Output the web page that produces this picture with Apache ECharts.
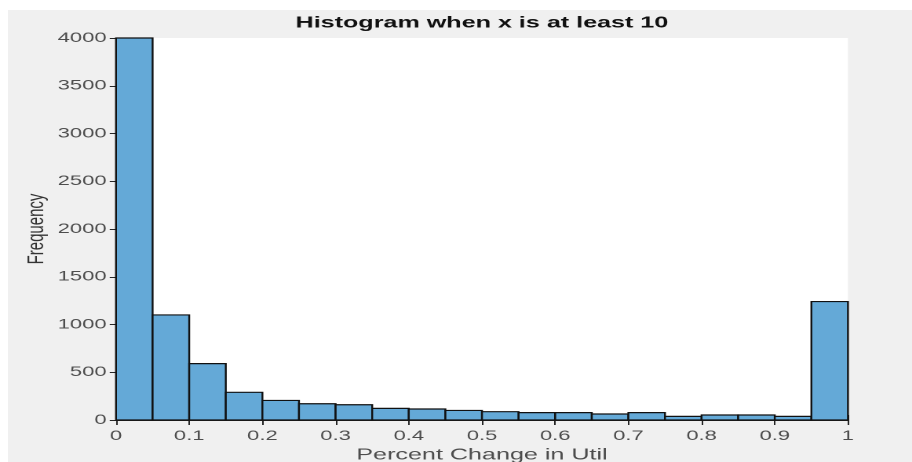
<!DOCTYPE html>
<html>
<head>
<meta charset="utf-8">
<script src="https://cdn.jsdelivr.net/npm/echarts@6/dist/echarts.min.js"></script>
<style>
html,body{margin:0;padding:0;background:#fff;overflow:hidden;}
#bg{position:absolute;left:8px;top:10px;width:904px;height:452px;background:#f0f0f0;}
#chart{position:absolute;left:0;top:0;width:581px;height:462px;transform:scaleX(1.5697);transform-origin:0 0;}
</style>
</head>
<body>
<div id="bg"></div>
<div id="chart"></div>
<script>
const titleText = 'Histogram when x is at least 10';
const xAxisName = 'Percent Change in Util';
const yAxisName = 'Frequency';
const binEdges = [0, 0.05, 0.1, 0.15, 0.2, 0.25, 0.3, 0.35, 0.4, 0.45, 0.5,
                  0.55, 0.6, 0.65, 0.7, 0.75, 0.8, 0.85, 0.9, 0.95, 1];
const counts = [4000, 1100, 590, 290, 205, 170, 160, 122, 115, 100,
                87, 77, 77, 63, 77, 38, 52, 52, 38, 1240];

const binData = counts.map((c, i) => [binEdges[i], binEdges[i + 1], c]);

const chart = echarts.init(document.getElementById('chart'), null, {renderer: 'canvas', devicePixelRatio: 2});
const font = 'Liberation Sans';
const axisColor = '#262626';
const labelColor = '#4d4d4d';

chart.setOption({
  backgroundColor: 'transparent',
  animation: false,
  title: {
    text: titleText,
    left: 302,
    top: 10,
    textAlign: 'center',
    textStyle: {fontFamily: font, fontWeight: 'bold', fontSize: 16, color: '#111'}
  },
  grid: {left: 73.9, right: 40.8, top: 38, bottom: 42, containLabel: false, outerBoundsMode: 'none',
         show: true, backgroundColor: '#fff', borderWidth: 0},
  xAxis: [{
    type: 'value', min: 0, max: 1, interval: 0.1, position: 'bottom',
    name: xAxisName, nameLocation: 'middle', nameGap: 27, nameMoveOverlap: false,
    nameTextStyle: {fontFamily: font, fontSize: 16, color: labelColor},
    axisLine: {show: true, onZero: false, lineStyle: {color: axisColor, width: 1}},
    axisTick: {show: true, inside: true, length: 5, lineStyle: {color: axisColor}},
    axisLabel: {fontFamily: font, fontSize: 14, color: labelColor, margin: 9,
      formatter: v => String(Math.round(v * 10) / 10)},
    splitLine: {show: false}
  }, {
    type: 'value', min: 0, max: 1, interval: 0.1, position: 'top',
    axisLine: {show: true, lineStyle: {color: axisColor, width: 1}},
    axisTick: {show: true, inside: true, length: 5, lineStyle: {color: axisColor}},
    axisLabel: {show: false}, splitLine: {show: false}
  }],
  yAxis: [{
    type: 'value', min: 0, max: 4000, interval: 500, position: 'left',
    name: yAxisName, nameLocation: 'middle', nameGap: 43, nameRotate: 90, nameMoveOverlap: false,
    nameTextStyle: {fontFamily: font, fontSize: 15, color: '#333'},
    axisLine: {show: true, lineStyle: {color: axisColor, width: 1}},
    axisTick: {show: true, inside: true, length: 4, lineStyle: {color: axisColor}},
    axisLabel: {fontFamily: font, fontSize: 14, color: labelColor, margin: 6,
      formatter: v => String(v)},
    splitLine: {show: false}
  }, {
    type: 'value', min: 0, max: 4000, interval: 500, position: 'right',
    axisLine: {show: true, lineStyle: {color: axisColor, width: 1}},
    axisTick: {show: true, inside: true, length: 4, lineStyle: {color: axisColor}},
    axisLabel: {show: false}, splitLine: {show: false}
  }],
  series: [{
    type: 'custom',
    xAxisIndex: 0, yAxisIndex: 0,
    data: binData,
    encode: {x: [0, 1], y: 2},
    renderItem: function (params, api) {
      const p0 = api.coord([api.value(0), api.value(2)]);
      const p1 = api.coord([api.value(1), 0]);
      return {
        type: 'rect',
        shape: {x: p0[0], y: p0[1], width: p1[0] - p0[0], height: p1[1] - p0[1]},
        style: {fill: '#64a9d7', stroke: '#111', lineWidth: 1.2}
      };
    }
  }]
});
</script>
</body>
</html>
